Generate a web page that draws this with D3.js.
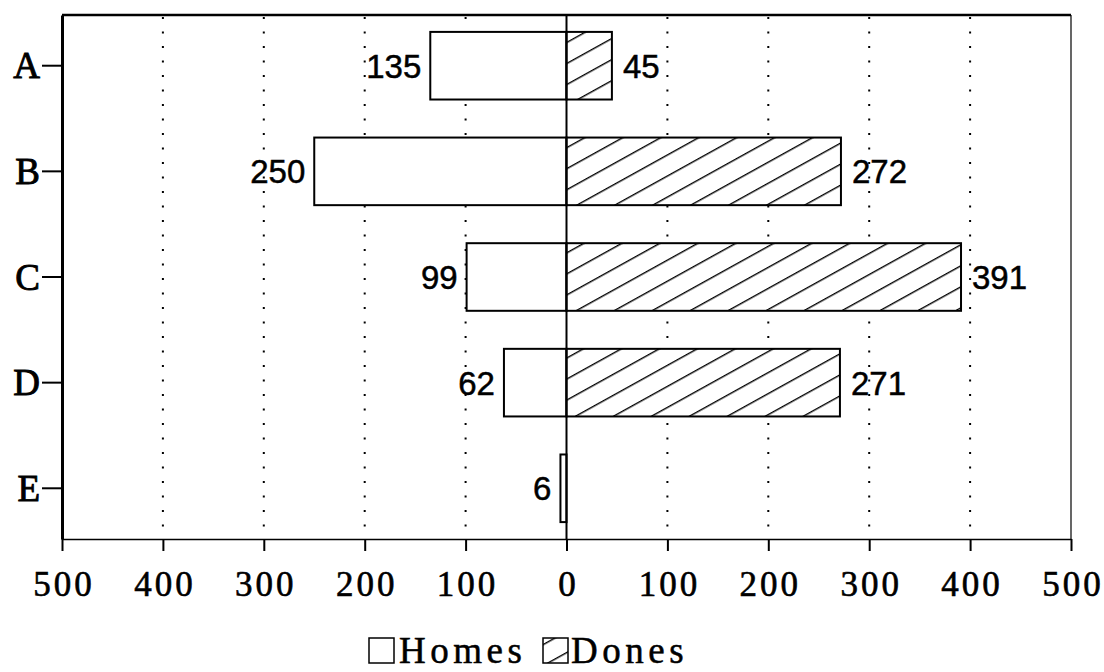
<!DOCTYPE html>
<html>
<head>
<meta charset="utf-8">
<script src="https://cdn.jsdelivr.net/npm/d3@7"></script>
<style>
  html, body { margin: 0; padding: 0; background: #fff; }
  svg { display: block; }
</style>
</head>
<body>
<svg id="chart" width="1104" height="672"></svg>
<script>
// Categories and the two series (left: Homes, right: Dones)
const categories = ["A", "B", "C", "D", "E"];
const homes = [135, 250, 99, 62, 6];
const dones = [45, 272, 391, 271, null];
const xTicks = [-500, -400, -300, -200, -100, 0, 100, 200, 300, 400, 500];
const seriesNames = ["Homes", "Dones"];

const svg = d3.select("#chart");
const plot = { left: 62, right: 1071, top: 15, bottom: 539 };

const x = d3.scaleLinear().domain([-500, 500]).range([plot.left, plot.right]);
const y = d3.scaleBand().domain(categories).range([plot.top, plot.bottom])
  .paddingInner(0.36).paddingOuter(0.16);

// Diagonal hatch for the Dones bars
const defs = svg.append("defs");
const pat = defs.append("pattern")
  .attr("id", "hatch")
  .attr("patternUnits", "userSpaceOnUse")
  .attr("width", 12).attr("height", 18.4)
  .attr("patternTransform", "translate(566,0) rotate(-29)");
pat.append("rect").attr("width", 12).attr("height", 18.4).attr("fill", "#fff");
pat.append("line").attr("x1", 0).attr("x2", 12).attr("y1", 0.7).attr("y2", 0.7)
  .attr("stroke", "#000").attr("stroke-width", 1.4);

const serif = "'Liberation Serif', 'Times New Roman', serif";
const sans = "'Liberation Sans', Arial, sans-serif";

// Dotted vertical gridlines
svg.append("g").selectAll("line")
  .data(xTicks.filter(d => d !== 0 && Math.abs(d) !== 500))
  .join("line")
  .attr("x1", d => x(d)).attr("x2", d => x(d))
  .attr("y1", plot.top + 2).attr("y2", plot.bottom)
  .attr("stroke", "#000").attr("stroke-width", 2)
  .attr("stroke-dasharray", "2 12.5");

// Homes bars (extend left of zero)
svg.append("g").selectAll("rect")
  .data(categories.map((c, i) => ({ c, v: homes[i] })))
  .join("rect")
  .attr("x", d => x(-d.v)).attr("width", d => x(0) - x(-d.v))
  .attr("y", d => y(d.c)).attr("height", y.bandwidth())
  .attr("fill", "#fff").attr("stroke", "#000").attr("stroke-width", 2);

// Dones bars (extend right of zero)
svg.append("g").selectAll("rect")
  .data(categories.map((c, i) => ({ c, v: dones[i] })).filter(d => d.v != null))
  .join("rect")
  .attr("x", x(0)).attr("width", d => x(d.v) - x(0))
  .attr("y", d => y(d.c)).attr("height", y.bandwidth())
  .attr("fill", "url(#hatch)").attr("stroke", "#000").attr("stroke-width", 2);

// Value labels
const valueText = sel => sel
  .attr("font-family", sans).attr("font-size", 33)
  .attr("stroke", "#000").attr("stroke-width", 0.5);
svg.append("g").selectAll("text")
  .data(categories.map((c, i) => ({ c, v: homes[i] })))
  .join("text")
  .attr("x", d => x(-d.v) - 9).attr("y", d => y(d.c) + y.bandwidth() / 2 + 12)
  .attr("text-anchor", "end")
  .call(valueText)
  .text(d => d.v);
svg.append("g").selectAll("text")
  .data(categories.map((c, i) => ({ c, v: dones[i] })).filter(d => d.v != null))
  .join("text")
  .attr("x", d => x(d.v) + 11).attr("y", d => y(d.c) + y.bandwidth() / 2 + 12)
  .attr("text-anchor", "start")
  .call(valueText)
  .text(d => d.v);

// Zero line
svg.append("line")
  .attr("x1", x(0)).attr("x2", x(0))
  .attr("y1", plot.top).attr("y2", plot.bottom)
  .attr("stroke", "#000").attr("stroke-width", 2);

// Frame
svg.append("line").attr("x1", plot.left).attr("x2", plot.right)
  .attr("y1", plot.top).attr("y2", plot.top)
  .attr("stroke", "#000").attr("stroke-width", 2.5);
svg.append("line").attr("x1", plot.right).attr("x2", plot.right)
  .attr("y1", plot.top).attr("y2", plot.bottom)
  .attr("stroke", "#000").attr("stroke-width", 1.2);

// Bottom axis
const xAxis = svg.append("g")
  .attr("transform", `translate(0,${plot.bottom})`)
  .call(d3.axisBottom(x).tickValues(xTicks).tickFormat(d => Math.abs(d))
    .tickSize(12).tickSizeOuter(0).tickPadding(20));
xAxis.select(".domain").attr("stroke-width", 1.5);
xAxis.selectAll(".tick line").attr("stroke-width", 2);
xAxis.selectAll("text")
  .attr("font-family", serif).attr("font-size", 35)
  .attr("letter-spacing", "3px").attr("dx", "1.5px").attr("fill", "#000")
  .attr("stroke", "#000").attr("stroke-width", 0.6);

// Left axis
const yAxis = svg.append("g")
  .attr("transform", `translate(${plot.left},0)`)
  .call(d3.axisLeft(y).tickSize(20).tickSizeOuter(0).tickPadding(2));
yAxis.select(".domain").attr("stroke-width", 3);
yAxis.selectAll(".tick line").attr("stroke-width", 2);
yAxis.selectAll("text")
  .attr("font-family", serif).attr("font-size", 37).attr("fill", "#000")
  .attr("stroke", "#000").attr("stroke-width", 0.9)
  .attr("dy", "0.34em");

// Legend
const legend = svg.append("g");
const legendItems = [
  { name: seriesNames[0], fill: "#fff", boxX: 369, textX: 399 },
  { name: seriesNames[1], fill: "url(#hatch)", boxX: 543, textX: 571 }
];
legend.selectAll("rect").data(legendItems).join("rect")
  .attr("x", d => d.boxX).attr("y", 638).attr("width", 25).attr("height", 25)
  .attr("fill", d => d.fill).attr("stroke", "#000").attr("stroke-width", 1.5);
legend.selectAll("text").data(legendItems).join("text")
  .attr("x", d => d.textX).attr("y", 663)
  .attr("font-family", serif).attr("font-size", 37)
  .attr("letter-spacing", "4.5px")
  .attr("stroke", "#000").attr("stroke-width", 0.5)
  .text(d => d.name);
</script>
</body>
</html>
